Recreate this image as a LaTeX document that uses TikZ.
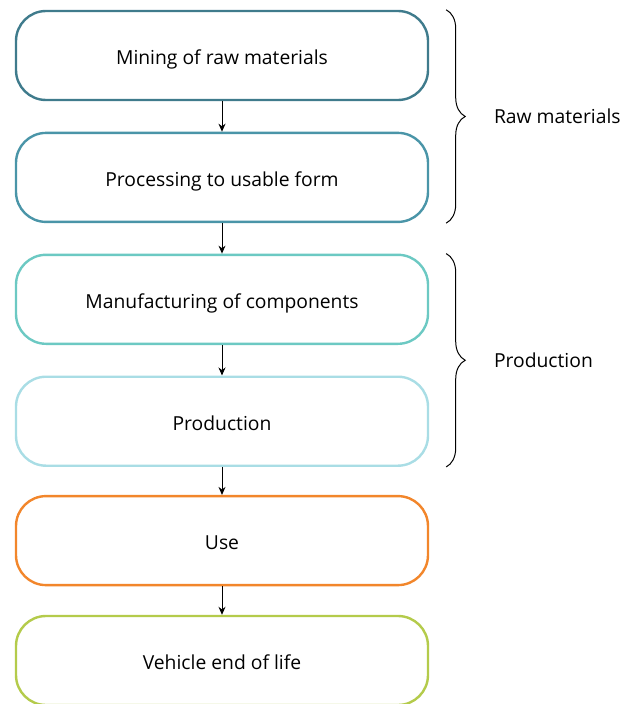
\documentclass[tikz,border=0pt]{standalone}
\usepackage{fontspec}
\setmainfont{Open Sans}
\usetikzlibrary{arrows.meta, calc, positioning, decorations.pathreplacing}
\definecolor{stageA}{HTML}{3F7B8C}
\definecolor{stageB}{HTML}{4A95A8}
\definecolor{stageC}{HTML}{6CC9C3}
\definecolor{stageD}{HTML}{A9DDE5}
\definecolor{stageE}{HTML}{F2862B}
\definecolor{stageF}{HTML}{B4CB4B}
\tikzset{
	stagebox/.style={draw=#1, line width=2.4pt, rounded corners=30pt, fill=white,
		minimum width=412pt, minimum height=89pt, align=center,
		text height=18pt, text depth=0pt,
		font=\fontsize{19.3}{22}\selectfont},
	flow/.style={-{Stealth[length=8pt,width=7pt]}, line width=1pt},
	groupbrace/.style={decorate, decoration={brace, amplitude=19pt}, line width=1pt},
	grouplabel/.style={anchor=west, font=\fontsize{19.3}{22}\selectfont}
}
\begin{document}
\begin{tikzpicture}[x=1pt, y=-1pt]
\useasboundingbox (0,0) rectangle (634,704);

% Stages of the life cycle
\node[stagebox=stageA] (mining) at (222,55.5) {Mining of raw materials};
\node[stagebox=stageB, below=30.5pt of mining] (processing) {Processing to usable form};
\node[stagebox=stageC, below=30.5pt of processing] (components) {Manufacturing of components};
\node[stagebox=stageD, below=30.5pt of components] (production) {Production};
\node[stagebox=stageE, below=28pt of production] (use) {Use};
\node[stagebox=stageF, below=28.5pt of use] (endoflife) {Vehicle end of life};

% Arrows
\draw[flow] (mining) -- (processing);
\draw[flow] (processing) -- (components);
\draw[flow] (components) -- (production);
\draw[flow] (production) -- (use);
\draw[flow] (use) -- (endoflife);

% Braces
\coordinate (rawtop) at ($(mining.north east)+(17pt,0)$);
\coordinate (rawbot) at ($(processing.south east)+(17pt,0)$);
\draw[groupbrace] (rawtop) -- (rawbot) node[midway, right=44pt, grouplabel] (rawlabel) {Raw materials};
\coordinate (prodtop) at ($(components.north east)+(17pt,0)$);
\coordinate (prodbot) at ($(production.south east)+(17pt,0)$);
\draw[groupbrace] (prodtop) -- (prodbot) node[midway, right=44pt, grouplabel] (prodlabel) {Production};
\end{tikzpicture}
\end{document}
